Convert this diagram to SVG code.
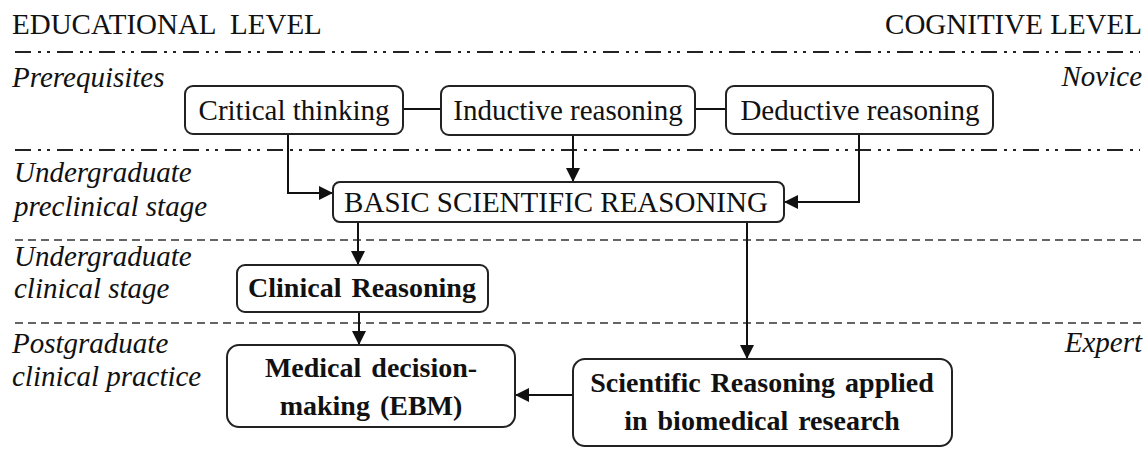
<svg xmlns="http://www.w3.org/2000/svg" width="1148" height="455" viewBox="0 0 1148 455">
<style>
.t{font-family:'Liberation Serif','Tinos','Times New Roman','Noto Serif','DejaVu Serif',serif;font-size:29px;fill:#111;}
.i{font-style:italic;}
.b{font-weight:bold;font-size:28px;word-spacing:3px;}
.box{fill:#fff;stroke:#222;stroke-width:2;}
.dd{stroke:#222;stroke-width:2;fill:none;stroke-dasharray:16 7 3 6 3 7;}
.ds{stroke:#333;stroke-width:1.6;fill:none;stroke-dasharray:8 5;}
.c{stroke:#111;stroke-width:2;fill:none;}
</style>
<defs>
<marker id="ah" markerUnits="userSpaceOnUse" markerWidth="14" markerHeight="14" viewBox="0 0 14 14" refX="14" refY="7" orient="auto">
<path d="M0,0 L14,7 L0,14 Z" fill="#111"/>
</marker>
</defs>
<rect width="1148" height="455" fill="#fff"/>
<g id="levels">
<text class="t" x="12" y="34" xml:space="preserve">EDUCATIONAL  LEVEL</text>
<text class="t" x="1142" y="34" text-anchor="end">COGNITIVE LEVEL</text>
<line class="dd" x1="15" y1="52" x2="1140" y2="52"/>
<line class="dd" x1="15" y1="150" x2="1140" y2="150"/>
<line class="ds" x1="15" y1="240" x2="1142" y2="240"/>
<line class="ds" x1="15" y1="323" x2="1142" y2="323"/>
<text class="t i" x="12" y="87">Prerequisites</text>
<text class="t i" x="1142" y="86" text-anchor="end">Novice</text>
<text class="t i" x="14" y="182">Undergraduate</text>
<text class="t i" x="14" y="216">preclinical stage</text>
<text class="t i" x="14" y="266">Undergraduate</text>
<text class="t i" x="14" y="298">clinical stage</text>
<text class="t i" x="12" y="353">Postgraduate</text>
<text class="t i" x="12" y="386">clinical practice</text>
<text class="t i" x="1142" y="352" text-anchor="end">Expert</text>
</g>
<g id="connectors">
<line class="c" x1="403" y1="109" x2="441" y2="109"/>
<line class="c" x1="695" y1="109" x2="726" y2="109"/>
<polyline class="c" points="288,134 288,193 333,193" marker-end="url(#ah)"/>
<line class="c" x1="573" y1="135" x2="573" y2="182" marker-end="url(#ah)"/>
<polyline class="c" points="859,134 859,202 784,202" marker-end="url(#ah)"/>
<line class="c" x1="358" y1="222" x2="358" y2="265" marker-end="url(#ah)"/>
<line class="c" x1="747" y1="222" x2="747" y2="359" marker-end="url(#ah)"/>
<line class="c" x1="359" y1="312" x2="359" y2="345" marker-end="url(#ah)"/>
<line class="c" x1="573" y1="395" x2="515" y2="395" marker-end="url(#ah)"/>
</g>
<g id="critical">
<rect class="box" x="185" y="86" width="218" height="48" rx="8"/>
<text class="t" x="294" y="120" text-anchor="middle">Critical thinking</text>
</g>
<g id="inductive">
<rect class="box" x="441" y="86" width="254" height="49" rx="8"/>
<text class="t" x="568" y="120" text-anchor="middle">Inductive reasoning</text>
</g>
<g id="deductive">
<rect class="box" x="726" y="86" width="267" height="48" rx="8"/>
<text class="t" x="860" y="120" text-anchor="middle">Deductive reasoning</text>
</g>
<g id="basic">
<rect class="box" x="333" y="182" width="451" height="40" rx="7"/>
<text class="t" x="556" y="212" text-anchor="middle">BASIC SCIENTIFIC REASONING</text>
</g>
<g id="clinical">
<rect class="box" x="237" y="265" width="251" height="47" rx="8"/>
<text class="t b" x="362" y="297" text-anchor="middle">Clinical Reasoning</text>
</g>
<g id="medical">
<rect class="box" x="227" y="345" width="288" height="82" rx="12"/>
<text class="t b" x="371" y="377" text-anchor="middle">Medical decision-</text>
<text class="t b" x="371" y="415" text-anchor="middle">making (EBM)</text>
</g>
<g id="scientific">
<rect class="box" x="573" y="359" width="379" height="87" rx="12"/>
<text class="t b" x="762" y="392" text-anchor="middle">Scientific Reasoning applied</text>
<text class="t b" x="762" y="430" text-anchor="middle">in biomedical research</text>
</g>
</svg>
